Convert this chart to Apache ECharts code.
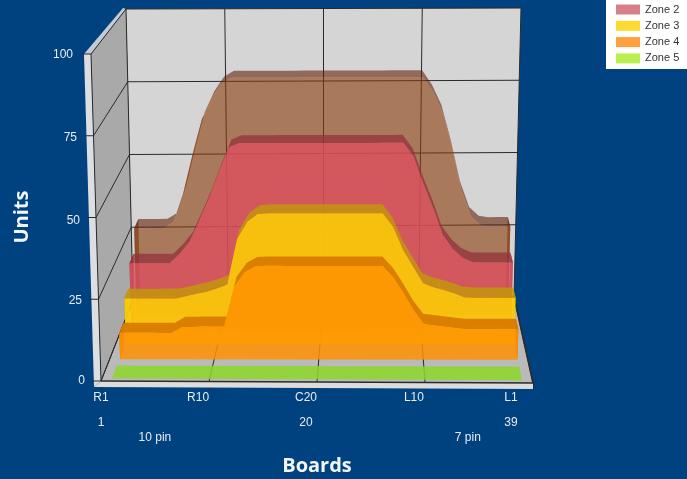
<!DOCTYPE html>
<html><head><meta charset="utf-8">
<style>html,body{margin:0;padding:0;background:#00427f}#c{width:687px;height:479px}</style>
<script src="https://cdn.jsdelivr.net/npm/echarts@6/dist/echarts.min.js"></script>
</head><body><div id="c"></div>
<script>
const zone1 = [29.5,29.5,29.5,29.5,31.5,41,54,66,73,78,79.9,79.9,79.9,79.9,79.9,79.9,79.9,79.9,79.9,79.9,79.9,79.9,79.9,79.9,79.9,79.9,79.9,79.9,79.9,79.9,75,68,56,42,33,30,29.5,29.5,29.5];
const zone2 = [21.9,21.9,21.9,21.9,21.9,25,29,36,43.5,52,60,61.4,61.4,61.4,61.4,61.4,61.4,61.4,61.4,61.4,61.4,61.4,61.4,61.4,61.4,61.4,61.4,61.4,57,48,40,31,26.5,23.5,22,21.9,21.9,21.9,21.9];
const zone3 = [14.8,14.8,14.8,14.8,14.8,14.8,15.5,16.3,17,18,19.3,34,39.5,42,42.3,42.3,42.3,42.3,42.3,42.3,42.3,42.3,42.3,42.3,42.3,42.3,38,30.5,25,19.7,18.4,17.5,16.5,15.2,15,15,15,15,15];
const zone4 = [8.3,8.3,8.3,8.3,8.3,8.3,10.2,10.2,10.3,10.3,10.3,23,27.5,29.3,29.5,29.5,29.5,29.5,29.5,29.5,29.5,29.5,29.5,29.5,29.5,29.5,26,21,15.5,11.2,10.8,10.4,10,9.6,9.6,9.6,9.6,9.6,9.6];
const zone5 = [0.4,0.4,0.4,0.4,0.4,0.4,0.4,0.4,0.4,0.4,0.4,0.4,0.4,0.4,0.4,0.4,0.4,0.4,0.4,0.4,0.4,0.4,0.4,0.4,0.4,0.4,0.4,0.4,0.4,0.4,0.4,0.4,0.4,0.4,0.4,0.4,0.4,0.4,0.4];
const pinNumbers = [1,2,3,4,5,6,7,8,9,10,11,12,13,14,15,16,17,18,19,20,21,22,23,24,25,26,27,28,29,30,31,32,33,34,35,36,37,38,39];
const boardLabels = {1:'R1',10:'R10',20:'C20',30:'L10',39:'L1'};
const numberLabels = {1:'1',20:'20',39:'39'};
const pinLabels = {6:'10 pin',35:'7 pin'};
const legendNames = ['Zone 2','Zone 3','Zone 4','Zone 5'];
const valueTicks = [0,25,50,75,100];
const boxTicks = [0,10,20,30,40];

const G = {left:101, top:54, width:432, height:326, outerBoundsMode:'none'};
const FRONT = {l0:[101,381], r0:[533,383], l1:[91,54], r1:[545,56]};
const BACK  = {l0:[133,300], r0:[514,297], l1:[126,9], r1:[521,8]};
const mix=(a,b,t)=>[a[0]+(b[0]-a[0])*t,a[1]+(b[1]-a[1])*t];
function face(F,t,u){return mix(mix(F.l0,F.r0,t),mix(F.l1,F.r1,t),u);}
function proj(api,x,v,z){
  const p=api.coord([x,v]);
  const t=(p[0]-G.left)/G.width,u=(G.top+G.height-p[1])/G.height;
  return mix(face(FRONT,t,u),face(BACK,t,u),z);
}
const poly=(pts,fill)=>({type:'polygon',shape:{points:pts},style:{fill:fill,stroke:null},silent:true});
const line=(a,b,c,w)=>({type:'line',shape:{x1:a[0],y1:a[1],x2:b[0],y2:b[1]},style:{stroke:c,lineWidth:w||1},silent:true});

function renderWalls(params,api){
  if(params.dataIndex!==0) return null;
  const P=(x,v,z)=>proj(api,x,v,z), ch=[];
  const fl=P(0,0,0),fr=P(40,0,0),bl=P(0,0,1),br=P(40,0,1),tl=P(0,100,0),btl=P(0,100,1),btr=P(40,100,1);
  ch.push(poly([bl,br,btr,btl],'#d5d5d5'));
  ch.push(poly([fl,bl,btl,tl],'#a9a9a9'));
  ch.push(poly([fl,fr,br,bl],'#bababa'));
  ch.push(poly([[tl[0]-7,tl[1]],tl,btl,[btl[0]-3,btl[1]-1]],'#c3cbd3'));
  ch.push(poly([[tl[0]-7,tl[1]],tl,fl,[fl[0]-7,fl[1]+6]],'#dcdfe2'));
  ch.push(poly([[fl[0]-7,fl[1]+6],[fr[0],fr[1]+6],fr,fl],'#dcdcdc'));
  const dark='#2a2a2a';
  valueTicks.forEach(v=>{
    const a=P(0,v,0),b=P(0,v,1),c=P(40,v,1);
    ch.push(line(a,b,dark),line(b,c,dark),line([a[0]-9,a[1]],a,dark));
  });
  boxTicks.forEach(x=>{
    const a=P(x,0,0),b=P(x,0,1),c=P(x,100,1);
    ch.push(line(a,b,dark),line(b,c,dark));
  });
  ch.push(line(fl,fr,dark,1.5),line(fr,br,dark,1.5),line(fl,tl,dark));
  return {type:'group',children:ch};
}
function renderZone(values,z0,z1,frontFill,topFill){
  return function(params,api){
    if(params.dataIndex!==0) return null;
    const ch=[], n=values.length;
    const topAt=(i,z)=>proj(api,pinNumbers[i],values[i],z);
    const fp=[proj(api,pinNumbers[0],0,z0)];
    for(let i=0;i<n;i++) fp.push(topAt(i,z0));
    fp.push(proj(api,pinNumbers[n-1],0,z0));
    const tp=[];
    for(let i=0;i<n;i++) tp.push(topAt(i,z0));
    for(let i=n-1;i>=0;i--) tp.push(topAt(i,z1));
    const side=i=>[proj(api,pinNumbers[i],0,z0),topAt(i,z0),topAt(i,z1),proj(api,pinNumbers[i],0,z1)];
    ch.push(poly(side(0),topFill),poly(side(n-1),topFill),poly(tp,topFill),poly(fp,frontFill));
    return {type:'group',children:ch};
  };
}
const txt='#e6edf3', fontF='"Liberation Sans",Arial,sans-serif';
const catAxis=(labels,margin,size)=>({
  type:'category',gridIndex:1,boundaryGap:false,position:'bottom',
  data:pinNumbers.map(i=>labels[i]||''),
  axisLine:{show:false},axisTick:{show:false},splitLine:{show:false},
  axisLabel:{show:true,margin:margin,color:txt,fontSize:size,fontFamily:fontF,
    hideOverlap:false,interval:(i,val)=>val!==''}
});
const yPad={0:0,25:3,50:5,75:8,100:12}, yDown={0:2,25:4,50:7,75:5,100:2};
const zoneSeries=(name,values,z0,z1,legendColor,f,t)=>({
  name:name,type:'custom',coordinateSystem:'cartesian2d',xAxisIndex:0,yAxisIndex:0,clip:false,silent:true,
  itemStyle:{color:legendColor},
  data:pinNumbers.map((p,i)=>[p,values[i]]),
  encode:{x:0,y:1},
  renderItem:renderZone(values,z0,z1,f,t)
});
const chart=echarts.init(document.getElementById('c'),null,{renderer:'canvas'});
chart.setOption({
  animation:false,backgroundColor:'#00427f',
  grid:[Object.assign({},G),{left:101,top:54,width:410,height:326,outerBoundsMode:'none'}],
  legend:{left:606,top:0,orient:'vertical',data:legendNames,icon:'rect',itemWidth:24,itemHeight:10,itemGap:5.3,
    backgroundColor:'#ffffff',borderRadius:0,padding:[4,9,5,10],selectedMode:false,
    textStyle:{color:'#333',fontSize:11,fontFamily:fontF}},
  xAxis:[
    {type:'value',gridIndex:0,min:0,max:40,interval:10,
     name:'Boards',nameLocation:'middle',nameGap:76,
     nameTextStyle:{color:'#f2f6fa',fontSize:20,fontWeight:'bold',fontFamily:'"Open Sans",sans-serif'},
     axisLine:{show:false},splitLine:{show:false},axisLabel:{show:false},
     axisTick:{show:true,length:10,lineStyle:{color:'#2a2a2a'}}},
    catAxis(boardLabels,12,12),catAxis(numberLabels,37,12),catAxis(pinLabels,52,12)
  ],
  yAxis:[
    {type:'value',gridIndex:0,min:0,max:100,interval:25,
     name:'Units',nameLocation:'middle',nameGap:69,
     nameTextStyle:{color:'#f2f6fa',fontSize:20,fontWeight:'bold',fontFamily:'"Open Sans",sans-serif'},
     axisLine:{show:false},axisTick:{show:false},splitLine:{show:false},
     axisLabel:{margin:16,color:txt,fontSize:12,fontFamily:fontF,
       formatter:v=>`{p${v}|${v}}`,
       rich:Object.fromEntries(valueTicks.map(v=>['p'+v,{padding:[yDown[v],yPad[v],0,0],color:txt,fontSize:12,fontFamily:fontF}]))}},
    {type:'value',gridIndex:1,show:false,min:0,max:100}
  ],
  series:[
    {name:'walls',type:'custom',coordinateSystem:'cartesian2d',xAxisIndex:0,yAxisIndex:0,clip:false,silent:true,
     data:[[0,0]],encode:{x:0,y:1},renderItem:renderWalls},
    zoneSeries('Zone 1',zone1,.80,.93,'#a9643c','rgba(140,60,10,.6)','rgba(100,35,10,.6)'),
    zoneSeries('Zone 2',zone2,.63,.76,'#d8808a','rgba(220,80,95,.8)','rgba(150,50,60,.75)'),
    zoneSeries('Zone 3',zone3,.45,.58,'#ffd830','rgba(255,210,0,.85)','rgba(195,150,10,.85)'),
    zoneSeries('Zone 4',zone4,.27,.40,'#ffa040','rgba(255,145,0,.85)','rgba(215,120,0,.9)'),
    zoneSeries('Zone 5',zone5,.03,.175,'#b8f050','rgba(140,215,40,.85)','rgba(140,215,40,.85)')
  ]
});
</script></body></html>
